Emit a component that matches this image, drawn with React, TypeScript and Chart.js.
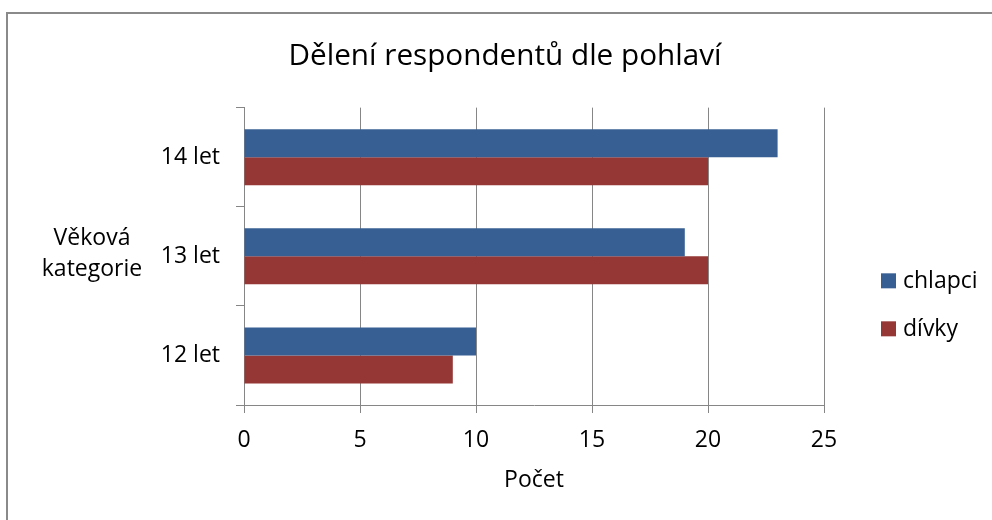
import { useEffect, useRef } from 'react';
import { Chart, registerables } from 'chart.js';

Chart.register(...registerables);

// ---- data ----
const categories = ['14 let', '13 let', '12 let'];
const chlapci = [23, 19, 10];
const divky = [20, 20, 9];
const seriesNames = ['chlapci', 'dívky'];
const seriesColors = ['#385F93', '#953735'];
const xTicks = [0, 5, 10, 15, 20, 25];
const chartTitle = 'Dělení respondentů dle pohlaví';
const xTitle = 'Počet';
const yTitleLines = ['Věková', 'kategorie'];

const FONT = '"Open Sans"';
const GRAY = '#868686';
const TICK_SIZE = 23;

const framePlugin = {
  id: 'frame',
  beforeDraw(chart: any) {
    const ctx = chart.ctx;
    ctx.save();
    ctx.fillStyle = '#ffffff';
    ctx.fillRect(0, 0, chart.width, chart.height);
    ctx.strokeStyle = '#8a8a8a';
    ctx.lineWidth = 2;
    ctx.strokeRect(7, 13, chart.width + 50, chart.height + 50);
    ctx.restore();
  },
};

const yTitlePlugin = {
  id: 'yTitleFlat',
  afterDraw(chart: any) {
    const ctx = chart.ctx;
    ctx.save();
    ctx.font = `${TICK_SIZE}px ${FONT}`;
    ctx.fillStyle = '#000000';
    ctx.textAlign = 'center';
    ctx.textBaseline = 'alphabetic';
    const cx = 92;
    const cy = (chart.chartArea.top + chart.chartArea.bottom) / 2;
    yTitleLines.forEach((line, i) => {
      ctx.fillText(line, cx, cy - 11 + i * 31);
    });
    ctx.restore();
  },
};

const legendPlugin = {
  id: 'sideLegend',
  afterDraw(chart: any) {
    const ctx = chart.ctx;
    ctx.save();
    ctx.font = `${TICK_SIZE}px ${FONT}`;
    ctx.textAlign = 'left';
    ctx.textBaseline = 'alphabetic';
    const x = chart.chartArea.right + 57;
    const cy = (chart.chartArea.top + chart.chartArea.bottom) / 2;
    const step = 48;
    chart.data.datasets.forEach((ds: any, i: number) => {
      const boxTop = cy + 17 + i * step;
      ctx.fillStyle = ds.backgroundColor;
      ctx.fillRect(x, boxTop, 15, 15);
      ctx.fillStyle = '#000000';
      ctx.fillText(ds.label, x + 22, boxTop + 15);
    });
    ctx.restore();
  },
};

export default function App() {
  const ref = useRef<HTMLCanvasElement | null>(null);

  useEffect(() => {
    document.body.style.margin = '0';
    Chart.defaults.font.family = FONT;
    Chart.defaults.color = '#000000';
    const chart = new Chart(ref.current as HTMLCanvasElement, {
      type: 'bar',
      data: {
        labels: categories,
        datasets: [
          {
            label: seriesNames[0],
            data: chlapci,
            backgroundColor: seriesColors[0],
            categoryPercentage: 0.566,
            barPercentage: 1.0,
          },
          {
            label: seriesNames[1],
            data: divky,
            backgroundColor: seriesColors[1],
            categoryPercentage: 0.566,
            barPercentage: 1.0,
          },
        ],
      },
      options: {
        indexAxis: 'y',
        animation: false,
        responsive: false,
        layout: { padding: { left: 18, right: 0, top: 0, bottom: 0 } },
        plugins: {
          legend: { display: false },
          tooltip: { enabled: false },
          title: {
            display: true,
            text: chartTitle,
            color: '#000000',
            font: { size: 29.7, weight: 'normal', family: FONT, lineHeight: 1.2 },
            padding: { top: 39, bottom: 33 },
          },
        },
        scales: {
          x: {
            min: xTicks[0],
            max: xTicks[xTicks.length - 1],
            ticks: {
              stepSize: xTicks[1] - xTicks[0],
              padding: 14,
              color: '#000000',
              font: { size: TICK_SIZE, family: FONT },
            },
            grid: { color: GRAY, lineWidth: 1, tickLength: 8, drawTicks: true },
            border: { display: true, color: GRAY },
            title: {
              display: true,
              text: xTitle,
              color: '#000000',
              font: { size: TICK_SIZE, family: FONT },
              padding: { top: 0, bottom: 26 },
            },
            afterFit(scale: any) {
              scale.height = 115;
            },
          },
          y: {
            ticks: {
              padding: 16,
              color: '#000000',
              font: { size: TICK_SIZE, family: FONT },
            },
            grid: { color: GRAY, drawOnChartArea: false, tickLength: 8, drawTicks: true },
            border: { display: true, color: GRAY },
            afterFit(scale: any) {
              scale.width = 226;
            },
          },
          yR: {
            type: 'category',
            position: 'right',
            display: true,
            grid: { display: false, drawTicks: false },
            border: { display: false },
            ticks: { display: false },
            afterFit(scale: any) {
              scale.width = 168;
            },
          },
        },
      },
      plugins: [framePlugin, yTitlePlugin, legendPlugin],
    } as any);
    return () => chart.destroy();
  }, []);

  return (
    <div style={{ width: 992, height: 520 }}>
      <canvas ref={ref} width={992} height={520} style={{ display: 'block' }} />
    </div>
  );
}
